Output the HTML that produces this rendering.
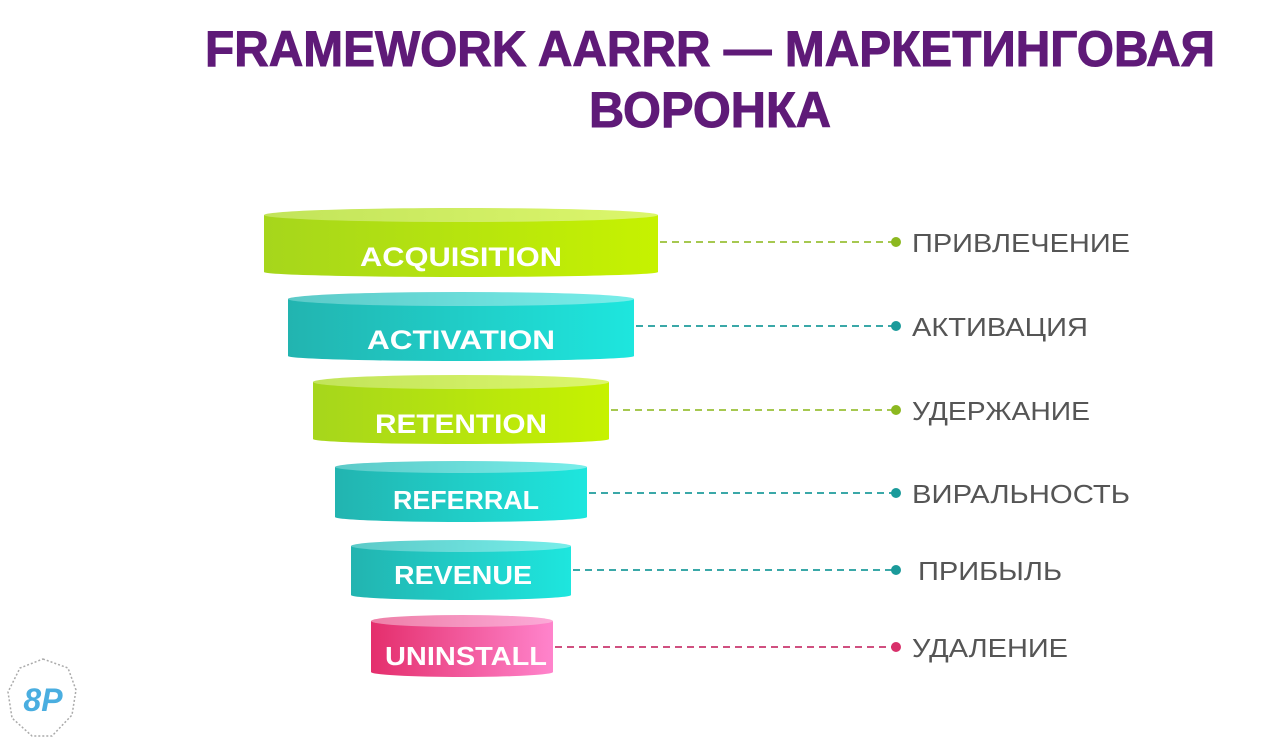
<!DOCTYPE html>
<html><head><meta charset="utf-8"><style>
html,body{margin:0;padding:0;background:#fff;width:1280px;height:746px;overflow:hidden}
</style></head><body>
<svg width="1280" height="746" viewBox="0 0 1280 746" xmlns="http://www.w3.org/2000/svg" font-family="Liberation Sans, sans-serif">
<defs>
<linearGradient id="g" x1="0" x2="1"><stop offset="0" stop-color="#a6d61c"/><stop offset="1" stop-color="#c6f200"/></linearGradient>
<linearGradient id="gt" x1="0" x2="1"><stop offset="0" stop-color="#c2e45a"/><stop offset="1" stop-color="#dcf66c"/></linearGradient>
<linearGradient id="t" x1="0" x2="1"><stop offset="0" stop-color="#22b4b0"/><stop offset="1" stop-color="#1ee6de"/></linearGradient>
<linearGradient id="tt" x1="0" x2="1"><stop offset="0" stop-color="#5ccac8"/><stop offset="1" stop-color="#78eeea"/></linearGradient>
<linearGradient id="p" x1="0" x2="1"><stop offset="0" stop-color="#e42e6c"/><stop offset="1" stop-color="#ff84cc"/></linearGradient>
<linearGradient id="pt" x1="0" x2="1"><stop offset="0" stop-color="#ee80a8"/><stop offset="1" stop-color="#fcaad8"/></linearGradient>
</defs>
<text x="710" y="66" text-anchor="middle" font-size="50" font-weight="bold" fill="#5f1a78" stroke="#5f1a78" stroke-width="1" textLength="1010" lengthAdjust="spacingAndGlyphs">FRAMEWORK AARRR — МАРКЕТИНГОВАЯ</text>
<text x="710" y="127" text-anchor="middle" font-size="50" font-weight="bold" fill="#5f1a78" stroke="#5f1a78" stroke-width="1" textLength="242" lengthAdjust="spacingAndGlyphs">ВОРОНКА</text>

<g>
<path d="M264,215 L264,272 A197,5 0 0 0 658,272 L658,215 Z" fill="url(#g)"/>
<ellipse cx="461" cy="215" rx="197" ry="7" fill="url(#gt)"/>
<text x="461" y="266" text-anchor="middle" font-size="27" font-weight="bold" fill="#fff" textLength="202" lengthAdjust="spacingAndGlyphs">ACQUISITION</text>

<path d="M288,299 L288,356 A173,5 0 0 0 634,356 L634,299 Z" fill="url(#t)"/>
<ellipse cx="461" cy="299" rx="173" ry="7" fill="url(#tt)"/>
<text x="461" y="349" text-anchor="middle" font-size="27" font-weight="bold" fill="#fff" textLength="188" lengthAdjust="spacingAndGlyphs">ACTIVATION</text>

<path d="M313,382 L313,439 A148,5 0 0 0 609,439 L609,382 Z" fill="url(#g)"/>
<ellipse cx="461" cy="382" rx="148" ry="7" fill="url(#gt)"/>
<text x="461" y="433" text-anchor="middle" font-size="27" font-weight="bold" fill="#fff" textLength="172" lengthAdjust="spacingAndGlyphs">RETENTION</text>

<path d="M335,467 L335,517 A126,5 0 0 0 587,517 L587,467 Z" fill="url(#t)"/>
<ellipse cx="461" cy="467" rx="126" ry="6" fill="url(#tt)"/>
<text x="466" y="509" text-anchor="middle" font-size="26" font-weight="bold" fill="#fff" textLength="146" lengthAdjust="spacingAndGlyphs">REFERRAL</text>

<path d="M351,546 L351,595 A110,5 0 0 0 571,595 L571,546 Z" fill="url(#t)"/>
<ellipse cx="461" cy="546" rx="110" ry="6" fill="url(#tt)"/>
<text x="463" y="584" text-anchor="middle" font-size="26" font-weight="bold" fill="#fff" textLength="138" lengthAdjust="spacingAndGlyphs">REVENUE</text>

<path d="M371,621 L371,672 A91,5 0 0 0 553,672 L553,621 Z" fill="url(#p)"/>
<ellipse cx="462" cy="621" rx="91" ry="6" fill="url(#pt)"/>
<text x="466" y="665" text-anchor="middle" font-size="26" font-weight="bold" fill="#fff" textLength="162" lengthAdjust="spacingAndGlyphs">UNINSTALL</text>
</g>

<g stroke-width="2" stroke-dasharray="7,5" fill="none">
<line x1="660" y1="242" x2="892" y2="242" stroke="#a6c850"/>
<line x1="636" y1="326" x2="892" y2="326" stroke="#3aa8a8"/>
<line x1="611" y1="410" x2="892" y2="410" stroke="#a6c850"/>
<line x1="589" y1="493" x2="892" y2="493" stroke="#3aa8a8"/>
<line x1="573" y1="570" x2="892" y2="570" stroke="#3aa8a8"/>
<line x1="555" y1="647" x2="892" y2="647" stroke="#d05080"/>
</g>
<circle cx="896" cy="242" r="5" fill="#8cb820"/>
<circle cx="896" cy="326" r="5" fill="#1a9a9a"/>
<circle cx="896" cy="410" r="5" fill="#8cb820"/>
<circle cx="896" cy="493" r="5" fill="#1a9a9a"/>
<circle cx="896" cy="570" r="5" fill="#1a9a9a"/>
<circle cx="896" cy="647" r="5" fill="#d8306a"/>

<g font-size="26" fill="#555">
<text x="912" y="252" textLength="218" lengthAdjust="spacingAndGlyphs">ПРИВЛЕЧЕНИЕ</text>
<text x="912" y="336" textLength="176" lengthAdjust="spacingAndGlyphs">АКТИВАЦИЯ</text>
<text x="912" y="420" textLength="178" lengthAdjust="spacingAndGlyphs">УДЕРЖАНИЕ</text>
<text x="912" y="503" textLength="218" lengthAdjust="spacingAndGlyphs">ВИРАЛЬНОСТЬ</text>
<text x="918" y="580" textLength="144" lengthAdjust="spacingAndGlyphs">ПРИБЫЛЬ</text>
<text x="912" y="657" textLength="156" lengthAdjust="spacingAndGlyphs">УДАЛЕНИЕ</text>
</g>

<polygon points="43,659 68,668 76,690 72,715 52,736 32,736 12,718 8,692 20,668" fill="none" stroke="#aaa" stroke-width="1.5" stroke-dasharray="2,2"/>
<text x="43" y="711" text-anchor="middle" font-size="32" font-weight="bold" font-style="italic" fill="#4aaee0">8P</text>
</svg>
</body></html>
